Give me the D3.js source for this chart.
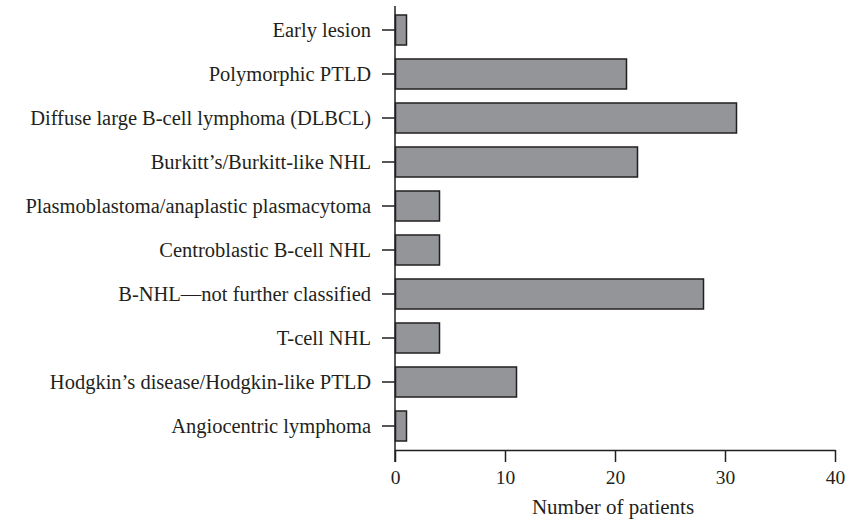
<!DOCTYPE html>
<html><head><meta charset="utf-8">
<script src="https://cdn.jsdelivr.net/npm/d3@7"></script>
<style>
body{margin:0;background:#fff;}
text{font-family:"Liberation Serif","DejaVu Serif",serif;fill:#231f20;}
</style></head>
<body>
<svg id="chart" width="846" height="524"></svg>
<script>
const categories = [
  "Early lesion",
  "Polymorphic PTLD",
  "Diffuse large B-cell lymphoma (DLBCL)",
  "Burkitt\u2019s/Burkitt-like NHL",
  "Plasmoblastoma/anaplastic plasmacytoma",
  "Centroblastic B-cell NHL",
  "B-NHL\u2014not further classified",
  "T-cell NHL",
  "Hodgkin\u2019s disease/Hodgkin-like PTLD",
  "Angiocentric lymphoma"
];
const values = [1, 21, 31, 22, 4, 4, 28, 4, 11, 1];
const xTicks = [0, 10, 20, 30, 40];
const xTitle = "Number of patients";

(function () {
const svg = d3.select("#chart");
const mLeft = 395, mRight = 835, mTop = 8, mBottom = 450;
const ff = '"Liberation Serif","DejaVu Serif",serif';

const x = d3.scaleLinear().domain([0, 40]).range([mLeft, mRight]);
const y = d3.scaleBand().domain(categories).range([mTop, mTop + 440])
  .paddingInner(0.318).paddingOuter(0.159);

// bars
svg.append("g").selectAll("rect").data(values).join("rect")
  .attr("x", x(0) + 0.5)
  .attr("y", (d, i) => y(categories[i]))
  .attr("width", d => x(d) - x(0))
  .attr("height", y.bandwidth())
  .attr("fill", "#939598")
  .attr("stroke", "#231f20")
  .attr("stroke-width", 1.5);

// y axis
const yAxis = d3.axisLeft(y).tickSize(13).tickPadding(11);
const gy = svg.append("g").attr("transform", `translate(${mLeft},0)`).call(yAxis);
gy.select(".domain").remove();
gy.selectAll(".tick line").attr("stroke", "#231f20").attr("stroke-width", 1.5);
gy.selectAll(".tick text").attr("font-size", 20.5).attr("fill", "#231f20")
  .style("font-family", ff);
svg.append("line").attr("x1", mLeft).attr("x2", mLeft).attr("y1", 6).attr("y2", 462)
  .attr("stroke", "#231f20").attr("stroke-width", 1.5);

// x axis
const xAxis = d3.axisBottom(x).tickValues(xTicks).tickSize(12).tickPadding(8).tickSizeOuter(0);
const gx = svg.append("g").attr("transform", `translate(0,${mBottom})`).call(xAxis);
gx.select(".domain").attr("stroke", "#231f20").attr("stroke-width", 1.5);
gx.selectAll(".tick line").attr("stroke", "#231f20").attr("stroke-width", 1.5);
gx.selectAll(".tick text").attr("font-size", 19.5).attr("fill", "#231f20")
  .style("font-family", ff);

svg.append("text").attr("x", (mLeft + mRight) / 2 - 2).attr("y", 514)
  .attr("text-anchor", "middle").attr("font-size", 21).style("font-family", ff).text(xTitle);
})();
</script>
</body></html>
